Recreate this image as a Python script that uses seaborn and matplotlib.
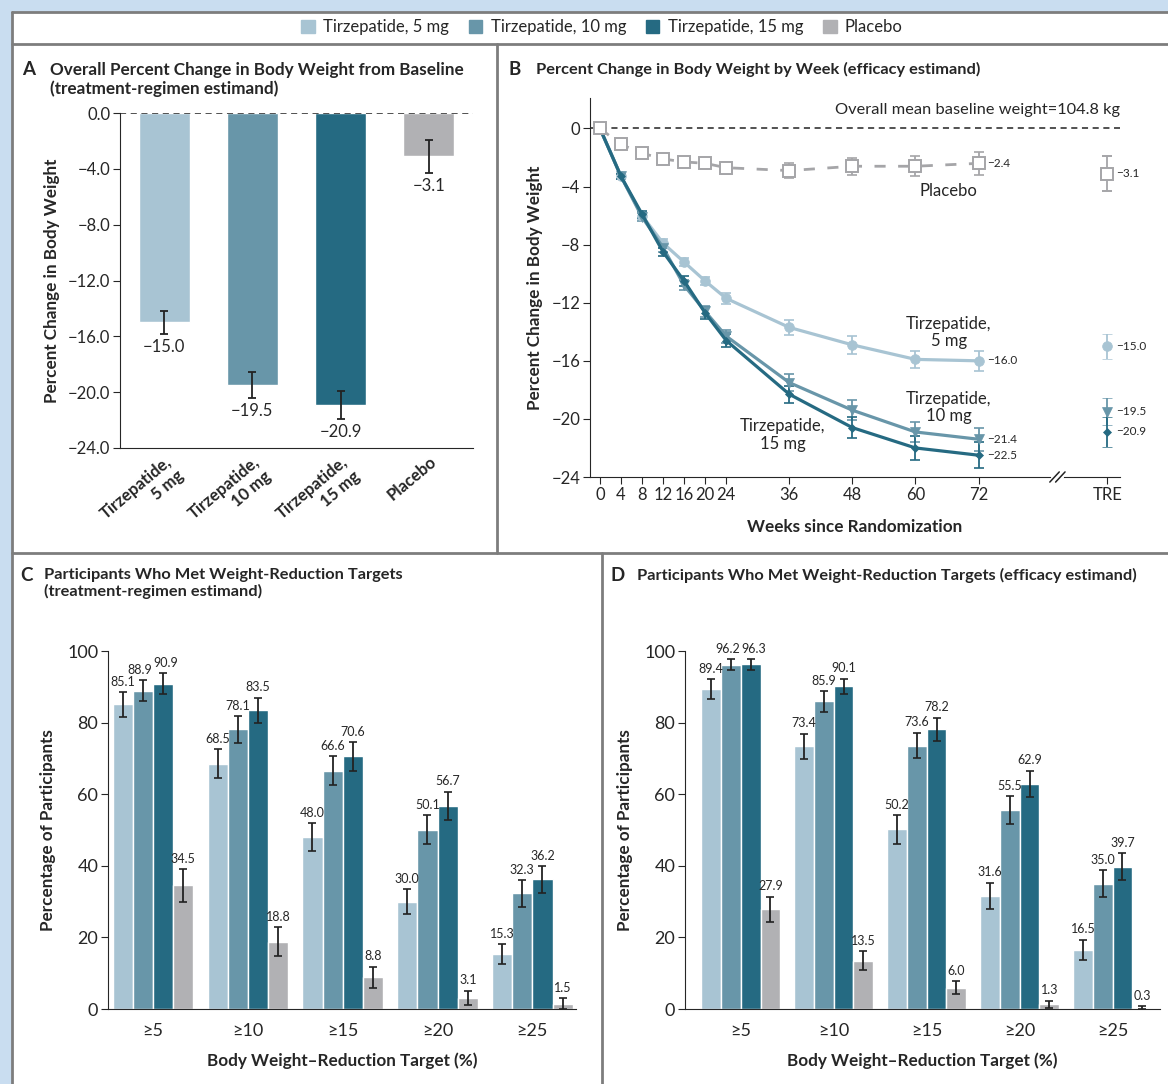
import numpy as np
import pandas as pd
import matplotlib.pyplot as plt
import matplotlib.patches as mpatches
import matplotlib.lines as mlines
import seaborn as sns

# Data
groups = ["Tirzepatide, 5 mg", "Tirzepatide, 10 mg", "Tirzepatide, 15 mg", "Placebo"]
colors = ["#a8c4d3", "#6896a9", "#256a82", "#b1b1b4"]

# Panel A
a_labels = ["Tirzepatide,\n5 mg", "Tirzepatide,\n10 mg", "Tirzepatide,\n15 mg", "Placebo"]
a_values = [-15.0, -19.5, -20.9, -3.1]
a_err = [0.85, 0.95, 1.0, 1.2]

# Panel B
weeks = [0, 4, 8, 12, 16, 20, 24, 36, 48, 60, 72]
b_5mg = [0, -3.3, -6.0, -7.9, -9.2, -10.5, -11.7, -13.7, -14.9, -15.9, -16.0]
b_10mg = [0, -3.3, -6.1, -8.2, -10.8, -12.6, -14.3, -17.5, -19.4, -20.9, -21.4]
b_15mg = [0, -3.3, -5.9, -8.5, -10.5, -12.7, -14.6, -18.3, -20.6, -22.0, -22.5]
b_plac = [0, -1.1, -1.7, -2.1, -2.3, -2.4, -2.7, -2.9, -2.6, -2.6, -2.4]
b_err_5mg = [0, 0.2, 0.25, 0.3, 0.3, 0.3, 0.4, 0.5, 0.6, 0.6, 0.7]
b_err_10mg = [0, 0.2, 0.25, 0.3, 0.35, 0.4, 0.45, 0.6, 0.7, 0.7, 0.8]
b_err_15mg = [0, 0.2, 0.25, 0.3, 0.35, 0.4, 0.45, 0.6, 0.7, 0.8, 0.9]
b_err_plac = [0, 0.2, 0.2, 0.25, 0.3, 0.35, 0.4, 0.5, 0.6, 0.7, 0.8]
tre_values = [-15.0, -19.5, -20.9, -3.1]
tre_err = [0.85, 0.95, 1.0, 1.2]

# Panels C and D
targets = ["≥5", "≥10", "≥15", "≥20", "≥25"]
c_5mg = [85.1, 68.5, 48.0, 30.0, 15.3]
c_10mg = [88.9, 78.1, 66.6, 50.1, 32.3]
c_15mg = [90.9, 83.5, 70.6, 56.7, 36.2]
c_plac = [34.5, 18.8, 8.8, 3.1, 1.5]
c_err_5mg = [3.5, 4.0, 4.0, 3.5, 2.8]
c_err_10mg = [3.0, 3.7, 4.0, 4.0, 3.7]
c_err_15mg = [3.0, 3.5, 4.0, 4.0, 3.8]
c_err_plac = [4.5, 4.0, 3.0, 2.0, 1.5]

d_5mg = [89.4, 73.4, 50.2, 31.6, 16.5]
d_10mg = [96.2, 85.9, 73.6, 55.5, 35.0]
d_15mg = [96.3, 90.1, 78.2, 62.9, 39.7]
d_plac = [27.9, 13.5, 6.0, 1.3, 0.3]
d_err_5mg = [2.8, 3.5, 4.0, 3.7, 2.9]
d_err_10mg = [1.5, 2.8, 3.6, 3.9, 3.7]
d_err_15mg = [1.5, 2.2, 3.2, 3.7, 3.8]
d_err_plac = [3.5, 2.7, 1.8, 1.0, 0.4]

sns.set_style("ticks")
plt.rcParams["font.family"] = ["Lato", "DejaVu Sans"]
plt.rcParams["axes.unicode_minus"] = True

W, H = 1168, 1084
fig = plt.figure(figsize=(W / 100, H / 100), dpi=100, facecolor="#c9ddf0")


def fx(px):
    return px / W


def fy(py):
    return 1 - py / H


def minus(s):
    return s.replace("-", "\u2212")


# white page + frame lines
fig.patches.append(mpatches.Rectangle((fx(12), 0), 1 - fx(12), fy(12), transform=fig.transFigure,
                                      facecolor="white", edgecolor="none", zorder=-10))
frame = "#7d7d7d"
for (x0, y0, x1, y1) in [(12, 12, 1168, 12), (12, 12, 12, 1084), (12, 44, 1168, 44), (497, 44, 497, 553),
                         (12, 553, 1168, 553), (602, 553, 602, 1084)]:
    fig.add_artist(mlines.Line2D([fx(x0), fx(x1)], [fy(y0), fy(y1)], transform=fig.transFigure,
                                 color=frame, lw=2))

# legend
handles = [mpatches.Patch(color=c, label=g) for c, g in zip(colors, groups)]
fig.legend(handles=handles, loc="center", bbox_to_anchor=(fx(602), fy(27)), ncol=4, frameon=False,
           fontsize=12, handlelength=0.8, handleheight=0.8, columnspacing=1.2, handletextpad=0.5)


# panel titles
def panel_title(letter, lx, tx, y, text, size=11.8):
    fig.text(fx(lx), fy(y), letter, fontsize=13.5, fontweight="bold", va="top", ha="left")
    fig.text(fx(tx), fy(y + 1), text, fontsize=size, fontweight="bold", va="top", ha="left", linespacing=1.15)


panel_title("A", 22, 50, 61, "Overall Percent Change in Body Weight from Baseline\n(treatment-regimen estimand)",
            size=12.3)
panel_title("B", 509, 536, 61, "Percent Change in Body Weight by Week (efficacy estimand)")
panel_title("C", 20, 44, 567, "Participants Who Met Weight-Reduction Targets\n(treatment-regimen estimand)")
panel_title("D", 611, 637, 567, "Participants Who Met Weight-Reduction Targets (efficacy estimand)")

LABEL = 12.3

# ---------- Panel A ----------
axA = fig.add_axes([fx(120), fy(448), fx(473 - 120), (448 - 113) / H])
dfA = pd.DataFrame({"grp": a_labels, "val": a_values})
sns.barplot(data=dfA, x="grp", y="val", hue="grp", palette=colors, width=0.58, legend=False, ax=axA,
            saturation=1)
xs = [p.get_x() + p.get_width() / 2 for p in axA.patches]
axA.errorbar(xs, a_values, yerr=a_err, fmt="none", ecolor="#222222", elinewidth=1.3, capsize=3, capthick=1.3)
for x, v, e in zip(xs, a_values, a_err):
    axA.text(x, v - e - 0.35, minus(f"{v:.1f}"), ha="center", va="top", fontsize=12)
axA.axhline(0, color="#222222", ls=(0, (4, 3)), lw=1.1, zorder=5)
axA.set_ylim(-24, 0)
axA.set_xlim(-0.5, 3.5)
axA.set_yticks(np.arange(-24, 0.1, 4))
axA.set_yticklabels([minus(f"{t:.1f}") for t in np.arange(-24, 0.1, 4)], fontsize=12)
axA.set_xticks(range(4))
axA.set_xticklabels(a_labels, rotation=40, ha="right", rotation_mode="anchor", fontsize=12,
                    fontweight="bold", ma="right")
axA.tick_params(axis="x", length=0, pad=4)
axA.tick_params(axis="y", length=5, pad=2)
axA.set_xlabel("")
axA.set_ylabel("Percent Change in Body Weight", fontsize=LABEL, fontweight="bold", labelpad=6)
sns.despine(ax=axA)

# ---------- Panel B ----------
axB = fig.add_axes([fx(590), fy(477), fx(1120 - 590), (477 - 98) / H])
tre_x = 96.5
dfB = pd.DataFrame({
    "week": weeks * 4,
    "val": b_5mg + b_10mg + b_15mg + b_plac,
    "grp": [groups[0]] * 11 + [groups[1]] * 11 + [groups[2]] * 11 + [groups[3]] * 11,
})
line_cols = ["#a8c4d3", "#6896a9", "#256a82", "#a5a5a8"]
sns.lineplot(data=dfB, x="week", y="val", hue="grp", style="grp", palette=line_cols,
             markers={groups[0]: "o", groups[1]: "v", groups[2]: "D", groups[3]: "s"},
             dashes={groups[0]: "", groups[1]: "", groups[2]: "", groups[3]: (4, 4.5)},
             linewidth=2.3, markersize=7, legend=False, ax=axB, zorder=3)
for ln in axB.lines:
    c = ln.get_color()
    if ln.get_marker() == "s":
        ln.set_markerfacecolor("white")
        ln.set_markeredgecolor(c)
        ln.set_markeredgewidth(1.4)
        ln.set_markersize(8)
        ln.set_linewidth(2)
    else:
        ln.set_markeredgecolor(c)
        ln.set_markeredgewidth(0.5)
        if ln.get_marker() == "D":
            ln.set_markersize(4.5)
errs = [b_err_5mg, b_err_10mg, b_err_15mg, b_err_plac]
series = [b_5mg, b_10mg, b_15mg, b_plac]
for s, e, c in zip(series, errs, line_cols):
    axB.errorbar(weeks, s, yerr=e, fmt="none", ecolor=c, elinewidth=1.3, capsize=3.5, capthick=1.2, zorder=2)
tre_mark = ["o", "v", "D", "s"]
for v, e, c, m in zip(tre_values, tre_err, line_cols, tre_mark):
    axB.errorbar([tre_x], [v], yerr=[e], fmt=m, color=c, mfc=("white" if m == "s" else c), mec=c,
                 ms=(8 if m == "s" else (4.5 if m == "D" else 7)), elinewidth=1.3, capsize=3.5, capthick=1.2,
                 mew=(1.4 if m == "s" else 0.5))
    axB.text(tre_x + 1.6, v, minus(f"{v:.1f}"), fontsize=8.5, va="center", ha="left")
for s in series:
    axB.text(72 + 1.6, s[-1], minus(f"{s[-1]:.1f}"), fontsize=8.5, va="center", ha="left")
axB.axhline(0, color="#222222", ls=(0, (4, 3)), lw=1.1, zorder=1)
axB.set_xlim(-1.9, 98.9)
axB.set_ylim(-24, 2.1)
axB.set_xticks(weeks + [tre_x])
axB.set_xticklabels([str(w) for w in weeks] + ["TRE"], fontsize=12)
axB.set_yticks(range(-24, 1, 4))
axB.set_yticklabels([minus(str(t)) for t in range(-24, 1, 4)], fontsize=12)
axB.tick_params(axis="both", length=5, pad=2)
axB.set_xlabel("Weeks since Randomization", fontsize=LABEL, fontweight="bold", labelpad=12)
axB.set_ylabel("Percent Change in Body Weight", fontsize=LABEL, fontweight="bold", labelpad=6)
sns.despine(ax=axB)
# axis break marks
axB.plot([86.2, 87.8], [-24, -24], color="white", lw=3, clip_on=False, zorder=5)
for dx in (-0.55, 0.55):
    axB.plot([87.0 + dx - 0.9, 87.0 + dx + 0.9], [-24.35, -23.65], color="#222222", lw=1.1, clip_on=False,
             zorder=6)
axB.text(98.9, 1.25, "Overall mean baseline weight=104.8 kg", ha="right", va="center", fontsize=11.8)
axB.text(66.3, -4.3, "Placebo", ha="center", va="center", fontsize=12)
axB.text(66.3, -14.05, "Tirzepatide,\n5 mg", ha="center", va="center", fontsize=12, linespacing=1.1)
axB.text(66.3, -19.2, "Tirzepatide,\n10 mg", ha="center", va="center", fontsize=12, linespacing=1.1)
axB.text(34.8, -21.1, "Tirzepatide,\n15 mg", ha="center", va="center", fontsize=12, linespacing=1.1)


# ---------- Panels C / D ----------
def target_panel(rect, xlim, vals, errs):
    ax = fig.add_axes(rect)
    df = pd.DataFrame({
        "target": targets * 4,
        "val": sum(vals, []),
        "grp": sum([[g] * 5 for g in groups], []),
    })
    sns.barplot(data=df, x="target", y="val", hue="grp", palette=colors, width=0.85, legend=False,
                ax=ax, saturation=1, errorbar=None)
    tops = []
    for cont, v, e in zip(ax.containers, vals, errs):
        bx = [p.get_x() + p.get_width() / 2 for p in cont]
        ax.errorbar(bx, v, yerr=e, fmt="none", ecolor="#222222", elinewidth=1.3, capsize=3, capthick=1.2)
        tops.append([(x, vv, vv + ee + 1.2) for x, vv, ee in zip(bx, v, e)])
    # labels; nudge apart neighbours that sit at almost the same height
    for i, series_tops in enumerate(tops):
        for j, (x, vv, top) in enumerate(series_tops):
            shift = 0.0
            if i + 1 < len(tops) and abs(tops[i + 1][j][2] - top) < 2.5:
                shift -= 0.03
            if i > 0 and abs(tops[i - 1][j][2] - top) < 2.5:
                shift += 0.03
            ax.text(x + shift, top, f"{vv:.1f}", ha="center", va="bottom", fontsize=9)
    ax.set_ylim(0, 100)
    ax.set_xlim(*xlim)
    ax.set_yticks(range(0, 101, 20))
    ax.set_yticklabels([str(t) for t in range(0, 101, 20)], fontsize=13)
    ax.tick_params(axis="y", length=5, pad=2)
    ax.tick_params(axis="x", length=0, pad=10, labelsize=13)
    ax.set_xlabel("Body Weight\u2013Reduction Target (%)", fontsize=LABEL, fontweight="bold", labelpad=10)
    ax.set_ylabel("Percentage of Participants", fontsize=LABEL, fontweight="bold", labelpad=8)
    sns.despine(ax=ax)
    return ax


target_panel([fx(108), fy(1009), fx(576 - 108), (1009 - 651) / H], (-0.475, 4.46),
             [c_5mg, c_10mg, c_15mg, c_plac], [c_err_5mg, c_err_10mg, c_err_15mg, c_err_plac])
target_panel([fx(685), fy(1009), fx(1160 - 685), (1009 - 651) / H], (-0.6, 4.51),
             [d_5mg, d_10mg, d_15mg, d_plac], [d_err_5mg, d_err_10mg, d_err_15mg, d_err_plac])

fig.savefig("out.png", dpi=100, facecolor=fig.get_facecolor())
